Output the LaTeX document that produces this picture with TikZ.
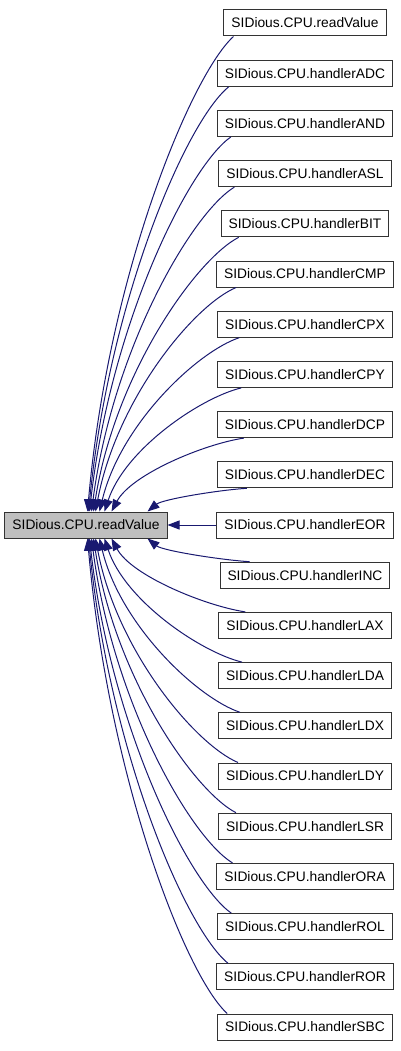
\documentclass[tikz,border=0pt]{standalone}
\usepackage{fontspec}
\setmainfont{Liberation Sans}
\usetikzlibrary{arrows.meta,calc}
\definecolor{edgeblue}{RGB}{25,25,112}
\definecolor{leftgray}{RGB}{191,191,191}
\tikzset{
  box/.style={draw=black!80, line width=1pt, fill=white, minimum height=26pt,
    inner xsep=7.5pt, inner ysep=2pt, font=\fontsize{13.8}{16}\selectfont},
  mainbox/.style={box, fill=leftgray},
  edge/.style={draw=edgeblue, line width=1pt,
    -{Triangle[length=12pt,width=9pt]}}
}
\begin{document}
\begin{tikzpicture}[x=1pt,y=-1pt]
\useasboundingbox (0,0) rectangle (400,1051);
\node[mainbox] (L) at (86,525) {SIDious.CPU.readValue};
\foreach \i/\nm in {0/readValue,1/handlerADC,2/handlerAND,3/handlerASL,4/handlerBIT,
  5/handlerCMP,6/handlerCPX,7/handlerCPY,8/handlerDCP,9/handlerDEC,10/handlerEOR,
  11/handlerINC,12/handlerLAX,13/handlerLDA,14/handlerLDX,15/handlerLDY,16/handlerLSR,
  17/handlerORA,18/handlerROL,19/handlerROR,20/handlerSBC}
  \node[box] (r\i) at (305,{525+(\i-10)*50.2}) {SIDious.CPU.\nm};
% straight middle edge
\draw[edge] (r10.west) -- (L.east);
% upper edges
\foreach \i/\off/\ex in {0/10/88,1/12/89,2/14/90,3/16/92,4/18/94,5/20/96,6/22/100,7/24/105,8/27/112,9/30/148}{
  \pgfmathsetmacro\sy{525+(\i-10)*50.2+13}
  \pgfmathsetmacro\dy{512-\sy}
  \pgfmathsetmacro\dx{218+\off-\ex}
  \draw[edge] ($(r\i.south west)+(\off,0)$) .. controls +({-0.3*\dx},{0.08*\dy}) and +({0.15*\dx},{-0.5*\dy}) .. ($(L.north west)+(\ex-5,0)$);
}
% lower edges
\foreach \i/\off/\ex in {20/10/88,19/12/89,18/14/90,17/16/92,16/18/94,15/20/96,14/22/100,13/24/105,12/27/112,11/30/148}{
  \pgfmathsetmacro\sy{525+(\i-10)*50.2-13}
  \pgfmathsetmacro\dy{\sy-538}
  \pgfmathsetmacro\dx{218+\off-\ex}
  \draw[edge] ($(r\i.north west)+(\off,0)$) .. controls +({-0.3*\dx},{-0.08*\dy}) and +({0.15*\dx},{0.5*\dy}) .. ($(L.south west)+(\ex-5,0)$);
}
\end{tikzpicture}
\end{document}
